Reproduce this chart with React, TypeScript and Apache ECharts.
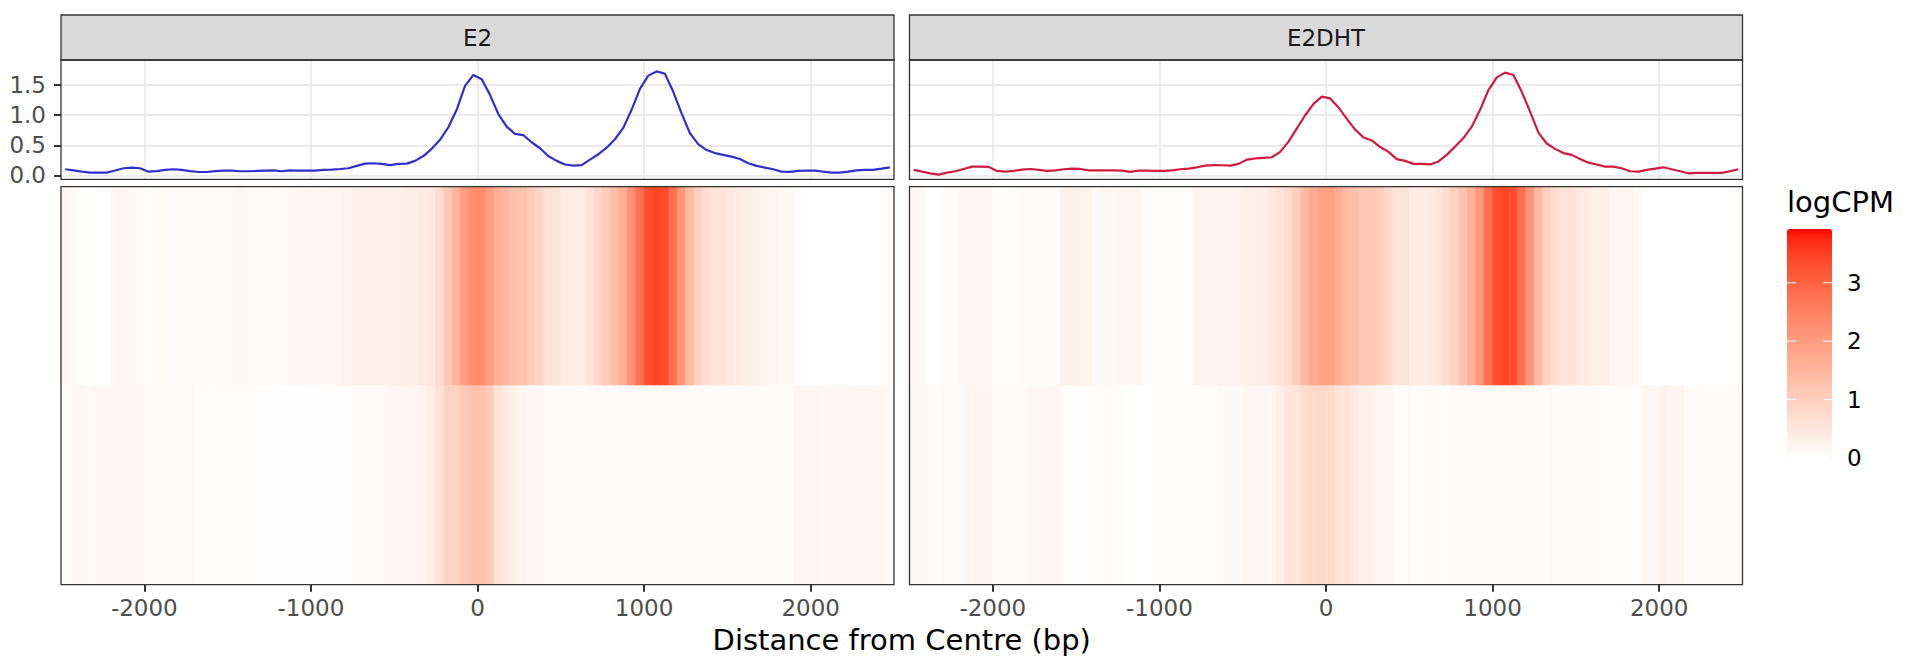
import React, { useEffect, useRef } from 'react';
import * as echarts from 'echarts';

// ---------------- data ----------------
const facets = ['E2', 'E2DHT'];
const binWidth = 50;
const binCentres = Array.from({ length: 100 }, (_, i) => -2475 + binWidth * i);
const xTicks = [-2000, -1000, 0, 1000, 2000];
const yTicks = [0, 0.5, 1.0, 1.5];
const legendTicks = [0, 1, 2, 3];
const fillMin = 0;
const fillMax = 3.92;
const profileMin = -0.067;
const profileMax = 1.92;

const e2Profile = [
  0.10, 0.083, 0.06, 0.044, 0.044, 0.044, 0.08, 0.117, 0.128, 0.117,
  0.06, 0.07, 0.09, 0.10, 0.09, 0.07, 0.055, 0.055, 0.07, 0.078,
  0.078, 0.067, 0.067, 0.072, 0.078, 0.083, 0.067, 0.083, 0.078, 0.078,
  0.078, 0.09, 0.094, 0.105, 0.117, 0.156, 0.194, 0.2, 0.19, 0.17,
  0.19, 0.194, 0.24, 0.32, 0.44, 0.59, 0.8, 1.09, 1.49, 1.67,
  1.6, 1.34, 1.02, 0.81, 0.69, 0.67, 0.55, 0.45, 0.32, 0.24,
  0.18, 0.16, 0.17, 0.26, 0.35, 0.46, 0.6, 0.79, 1.09, 1.44,
  1.66, 1.73, 1.69, 1.39, 1.03, 0.7, 0.52, 0.42, 0.37, 0.34,
  0.31, 0.27, 0.2, 0.156, 0.128, 0.1, 0.06, 0.056, 0.072, 0.078,
  0.078, 0.06, 0.044, 0.044, 0.06, 0.083, 0.09, 0.09, 0.11, 0.133,
];
const e2dhtProfile = [
  0.09, 0.06, 0.033, 0.01, 0.044, 0.067, 0.105, 0.144, 0.144, 0.14,
  0.072, 0.06, 0.072, 0.094, 0.105, 0.09, 0.072, 0.083, 0.1, 0.11,
  0.105, 0.083, 0.083, 0.083, 0.083, 0.078, 0.056, 0.078, 0.078, 0.072,
  0.072, 0.083, 0.1, 0.11, 0.133, 0.16, 0.17, 0.167, 0.16, 0.19,
  0.26, 0.28, 0.29, 0.3, 0.39, 0.56, 0.78, 1.0, 1.19, 1.31,
  1.28, 1.13, 0.94, 0.76, 0.63, 0.58, 0.47, 0.39, 0.27, 0.24,
  0.19, 0.19, 0.18, 0.23, 0.34, 0.48, 0.62, 0.81, 1.09, 1.42,
  1.63, 1.71, 1.67, 1.39, 1.06, 0.71, 0.53, 0.44, 0.37, 0.34,
  0.27, 0.21, 0.18, 0.144, 0.144, 0.117, 0.067, 0.06, 0.09, 0.11,
  0.133, 0.1, 0.067, 0.033, 0.039, 0.039, 0.039, 0.039, 0.067, 0.1,
];
const e2TopRow = [
  0.14, 0.14, 0.04, 0.02, 0.02, 0.03, 0.16, 0.17, 0.15, 0.12,
  0.06, 0.1, 0.1, 0.09, 0.09, 0.1, 0.1, 0.09, 0.1, 0.1,
  0.12, 0.15, 0.12, 0.1, 0.1, 0.11, 0.1, 0.12, 0.14, 0.15,
  0.16, 0.18, 0.2, 0.22, 0.24, 0.26, 0.3, 0.3, 0.32, 0.3,
  0.32, 0.35, 0.36, 0.42, 0.47, 0.72, 1.15, 1.55, 2.0, 2.3,
  2.3, 2.0, 1.6, 1.45, 1.3, 1.25, 1.05, 0.9, 0.62, 0.55,
  0.4, 0.38, 0.4, 0.55, 0.8, 1.05, 1.35, 1.6, 2.2, 2.8,
  3.3, 3.45, 3.38, 2.8, 2.1, 1.4, 0.9, 0.72, 0.62, 0.55,
  0.47, 0.42, 0.35, 0.3, 0.22, 0.18, 0.14, 0.1, 0.05, 0.02,
  0.01, 0, 0, 0, 0, 0, 0, 0, 0.03, 0.06,
];
const e2BottomRow = [
  0.08, 0.13, 0.13, 0.1, 0.13, 0.13, 0.14, 0.13, 0.18, 0.18,
  0.07, 0.07, 0.12, 0.12, 0.12, 0.12, 0.05, 0.05, 0.05, 0.05,
  0.05, 0.05, 0.05, 0.03, 0.03, 0.03, 0.03, 0.03, 0.03, 0.03,
  0.03, 0.03, 0.03, 0.03, 0.03, 0.1, 0.1, 0.1, 0.1, 0.18,
  0.18, 0.18, 0.2, 0.22, 0.37, 0.62, 0.9, 0.95, 1.15, 1.25,
  1.25, 1.05, 0.55, 0.42, 0.3, 0.22, 0.13, 0.13, 0.07, 0.07,
  0.07, 0.07, 0.07, 0.09, 0.09, 0.09, 0.09, 0.09, 0.09, 0.1,
  0.1, 0.09, 0.09, 0.12, 0.12, 0.12, 0.12, 0.12, 0.12, 0.1,
  0.1, 0.1, 0.1, 0.1, 0.08, 0.08, 0.08, 0.08, 0.17, 0.17,
  0.17, 0.15, 0.13, 0.13, 0.13, 0.2, 0.2, 0.17, 0.17, 0.15,
];
const e2dhtTopRow = [
  0.13, 0.13, 0.02, 0.02, 0.08, 0.08, 0.14, 0.14, 0.14, 0.14,
  0.04, 0.04, 0.04, 0.08, 0.08, 0.07, 0.07, 0.07, 0.26, 0.3,
  0.3, 0.25, 0.12, 0.16, 0.16, 0.18, 0.18, 0.18, 0.08, 0.05,
  0.05, 0.05, 0.05, 0.05, 0.21, 0.21, 0.21, 0.22, 0.22, 0.24,
  0.32, 0.32, 0.34, 0.42, 0.55, 0.72, 1.0, 1.45, 1.7, 1.9,
  1.9, 1.7, 1.4, 1.3, 1.15, 1.15, 1.0, 0.8, 0.62, 0.55,
  0.42, 0.42, 0.42, 0.5, 0.72, 0.95, 1.25, 1.6, 2.1, 2.8,
  3.3, 3.42, 3.3, 2.8, 2.1, 1.45, 0.95, 0.72, 0.6, 0.6,
  0.45, 0.45, 0.32, 0.32, 0.17, 0.17, 0.17, 0.08, 0.03, 0,
  0, 0, 0, 0, 0, 0, 0, 0, 0, 0.05,
];
const e2dhtBottomRow = [
  0.16, 0.16, 0.1, 0.08, 0.12, 0.12, 0.12, 0.22, 0.22, 0.22,
  0.1, 0.08, 0.08, 0.08, 0.18, 0.18, 0.18, 0.18, 0.04, 0.04,
  0.03, 0.03, 0.03, 0.08, 0.05, 0.05, 0.01, 0.01, 0.01, 0.05,
  0.05, 0.05, 0.05, 0.05, 0.05, 0.05, 0.05, 0.12, 0.12, 0.12,
  0.2, 0.2, 0.2, 0.2, 0.35, 0.5, 0.5, 0.72, 0.78, 0.8,
  0.75, 0.62, 0.55, 0.42, 0.3, 0.3, 0.17, 0.17, 0.05, 0.05,
  0.05, 0.08, 0.08, 0.08, 0.04, 0.09, 0.09, 0.09, 0.09, 0.09,
  0.09, 0.12, 0.12, 0.12, 0.12, 0.08, 0.08, 0.12, 0.12, 0.12,
  0.12, 0.08, 0.08, 0.04, 0.04, 0.04, 0.04, 0.04, 0.18, 0.18,
  0.27, 0.23, 0.23, 0.08, 0.08, 0.08, 0.08, 0.08, 0.08, 0.08,
];

const profiles = [e2Profile, e2dhtProfile];
const topRows = [e2TopRow, e2dhtTopRow];
const bottomRows = [e2BottomRow, e2dhtBottomRow];
const lineColors = ['#2F2FD0', '#D01A3E'];

// ---------------- colour ramp (CIELAB, like ggplot's gradient) ----------------
const XN = 0.95047, YN = 1.0, ZN = 1.08883;
function toLin(c: number) { c /= 255; return c <= 0.04045 ? c / 12.92 : Math.pow((c + 0.055) / 1.055, 2.4); }
function toSrgb(c: number) {
  c = Math.max(0, Math.min(1, c));
  const v = c <= 0.0031308 ? 12.92 * c : 1.055 * Math.pow(c, 1 / 2.4) - 0.055;
  return Math.round(Math.max(0, Math.min(1, v)) * 255);
}
function fLab(t: number) { return t > 216 / 24389 ? Math.cbrt(t) : (t * 24389 / 27 + 16) / 116; }
function fInv(t: number) { return t > 6 / 29 ? t * t * t : 3 * (6 / 29) * (6 / 29) * (t - 4 / 29); }
function rgbToLab(rgb: number[]) {
  const [r, g, b] = rgb.map(toLin);
  const X = 0.4124564 * r + 0.3575761 * g + 0.1804375 * b;
  const Y = 0.2126729 * r + 0.7151522 * g + 0.0721750 * b;
  const Z = 0.0193339 * r + 0.1191920 * g + 0.9503041 * b;
  const fx = fLab(X / XN), fy = fLab(Y / YN), fz = fLab(Z / ZN);
  return [116 * fy - 16, 500 * (fx - fy), 200 * (fy - fz)];
}
function labToHex(lab: number[]) {
  const [L, a, bb] = lab;
  const fy = (L + 16) / 116, fx = fy + a / 500, fz = fy - bb / 200;
  const X = XN * fInv(fx), Y = YN * fInv(fy), Z = ZN * fInv(fz);
  const r = 3.2404542 * X - 1.5371385 * Y - 0.4985314 * Z;
  const g = -0.9692660 * X + 1.8760108 * Y + 0.0415560 * Z;
  const b = 0.0556434 * X - 0.2040259 * Y + 1.0572252 * Z;
  return '#' + [r, g, b].map((c) => toSrgb(c).toString(16).padStart(2, '0')).join('');
}
const lowLab = rgbToLab([255, 255, 255]);
const highLab = rgbToLab([255, 0, 0]);
const rampStops = Array.from({ length: 41 }, (_, i) => {
  const t = i / 40;
  return labToHex(lowLab.map((v, k) => v + (highLab[k] - v) * t));
});

// ---------------- layout ----------------
const W = 1920, H = 672;
const panelLeft = [61, 909.5];
const panelWidth = 833;
const stripTop = 15, stripBottom = 60;
const lineTop = 60, lineHeight = 119.3;
const heatTop = 186.7, heatHeight = 398;
const legendX = 1787, legendY = 229, legendW = 45, legendH = 229;
const FONT = 'DejaVu Sans';

export default function App() {
  const ref = useRef<HTMLDivElement>(null);
  useEffect(() => {
    if (!ref.current) return;
    const chart = echarts.init(ref.current, undefined, { renderer: 'svg', width: W, height: H });

    const grids: any[] = [];
    const xAxes: any[] = [];
    const yAxes: any[] = [];
    const series: any[] = [];
    const heatSeriesIdx: number[] = [];

    facets.forEach((name, f) => {
      // profile grid
      grids.push({ left: panelLeft[f], top: lineTop, width: panelWidth, height: lineHeight, containLabel: false });
      const gLine = grids.length - 1;
      xAxes.push({
        type: 'value', gridIndex: gLine, min: -2500, max: 2500, position: 'bottom',
        axisLine: { show: false, onZero: false }, axisLabel: { show: false },
        axisTick: { show: false, customValues: xTicks },
        splitLine: { show: true, lineStyle: { color: '#EBEBEB', width: 2 } },
      });
      yAxes.push({
        type: 'value', gridIndex: gLine, min: profileMin, max: profileMax, position: 'left',
        axisLine: { show: false, onZero: false },
        axisTick: { show: f === 0, customValues: yTicks, length: 7, lineStyle: { color: '#333333', width: 2 } },
        axisLabel: {
          show: f === 0, customValues: yTicks, margin: 15,
          formatter: (v: number) => v.toFixed(1), fontSize: 23, color: '#4D4D4D', fontFamily: FONT,
        },
        splitLine: { show: true, lineStyle: { color: '#EBEBEB', width: 2 } },
      });
      series.push({
        type: 'line', name, xAxisIndex: xAxes.length - 1, yAxisIndex: yAxes.length - 1,
        data: binCentres.map((x, i) => [x, profiles[f][i]]),
        showSymbol: false, symbol: 'none', smooth: false,
        lineStyle: { color: lineColors[f], width: 2.2 }, itemStyle: { color: lineColors[f] },
        z: 3,
      });

      // heatmap grid
      grids.push({ left: panelLeft[f], top: heatTop, width: panelWidth, height: heatHeight, containLabel: false });
      const gHeat = grids.length - 1;
      xAxes.push({
        type: 'value', gridIndex: gHeat, min: -2500, max: 2500, position: 'bottom',
        axisLine: { show: false, onZero: false },
        axisTick: { show: true, customValues: xTicks, length: 7, lineStyle: { color: '#333333', width: 2 } },
        axisLabel: {
          show: true, customValues: xTicks, margin: 12,
          formatter: (v: number) => String(v), fontSize: 23, color: '#4D4D4D', fontFamily: FONT,
        },
        splitLine: { show: false },
      });
      yAxes.push({
        type: 'value', gridIndex: gHeat, min: 0, max: 2, show: false,
        axisLine: { onZero: false }, splitLine: { show: false },
      });
      const data: any[] = [];
      binCentres.forEach((x, i) => {
        data.push([x, 1.5, topRows[f][i]]);
        data.push([x, 0.5, bottomRows[f][i]]);
      });
      series.push({
        type: 'custom', name: name + ' heat', xAxisIndex: xAxes.length - 1, yAxisIndex: yAxes.length - 1,
        data, encode: { x: 0, y: 1 }, clip: true,
        renderItem: (params: any, api: any) => {
          const x = api.value(0), y = api.value(1);
          const p1 = api.coord([x - binWidth / 2, y + 0.5]);
          const p2 = api.coord([x + binWidth / 2, y - 0.5]);
          const c = api.visual('color');
          return {
            type: 'rect',
            shape: { x: p1[0], y: p1[1], width: p2[0] - p1[0], height: p2[1] - p1[1] },
            style: { fill: c, stroke: c, lineWidth: 0.8 },
          };
        },
      });
      heatSeriesIdx.push(series.length - 1);
    });

    const graphic: any[] = [];
    facets.forEach((name, f) => {
      const x0 = panelLeft[f];
      graphic.push({
        type: 'rect', z: 10,
        shape: { x: x0, y: stripTop, width: panelWidth, height: stripBottom - stripTop },
        style: { fill: '#D9D9D9', stroke: '#333333', lineWidth: 1.3 },
      });
      graphic.push({
        type: 'text', z: 11, x: x0 + panelWidth / 2, y: (stripTop + stripBottom) / 2,
        style: { text: name, fontSize: 23, fontFamily: FONT, fill: '#1A1A1A', align: 'center', verticalAlign: 'middle' },
      });
      graphic.push({
        type: 'rect', z: 10,
        shape: { x: x0, y: lineTop, width: panelWidth, height: lineHeight },
        style: { fill: 'none', stroke: '#333333', lineWidth: 1.3 },
      });
      graphic.push({
        type: 'rect', z: 10,
        shape: { x: x0, y: heatTop, width: panelWidth, height: heatHeight },
        style: { fill: 'none', stroke: '#333333', lineWidth: 1.3 },
      });
    });
    // axis title
    graphic.push({
      type: 'text', z: 11, x: (panelLeft[0] + panelLeft[1] + panelWidth) / 2, y: 640,
      style: { text: 'Distance from Centre (bp)', fontSize: 29, fontFamily: FONT, fill: '#000000', align: 'center', verticalAlign: 'middle' },
    });
    // legend title, ticks and labels
    graphic.push({
      type: 'text', z: 11, x: legendX, y: 202,
      style: { text: 'logCPM', fontSize: 29, fontFamily: FONT, fill: '#000000', align: 'left', verticalAlign: 'middle' },
    });
    legendTicks.forEach((v) => {
      const y = legendY + legendH - ((v - fillMin) / (fillMax - fillMin)) * legendH;
      if (v > fillMin) {
        graphic.push({ type: 'line', z: 12, shape: { x1: legendX, y1: y, x2: legendX + 9, y2: y }, style: { stroke: '#FFFFFF', lineWidth: 1 } });
        graphic.push({ type: 'line', z: 12, shape: { x1: legendX + legendW - 9, y1: y, x2: legendX + legendW, y2: y }, style: { stroke: '#FFFFFF', lineWidth: 1 } });
      }
      graphic.push({
        type: 'text', z: 11, x: 1847, y,
        style: { text: String(v), fontSize: 23, fontFamily: FONT, fill: '#000000', align: 'left', verticalAlign: 'middle' },
      });
    });

    chart.setOption({
      animation: false,
      backgroundColor: '#FFFFFF',
      textStyle: { fontFamily: FONT },
      grid: grids,
      xAxis: xAxes,
      yAxis: yAxes,
      series,
      visualMap: {
        type: 'continuous', min: fillMin, max: fillMax, dimension: 2, seriesIndex: heatSeriesIdx,
        calculable: false, realtime: false, hoverLink: false,
        inRange: { color: rampStops },
        orient: 'vertical', left: legendX, top: legendY, itemWidth: legendW, itemHeight: legendH,
        padding: 0, text: null, showLabel: false,
      },
      graphic,
    });
    return () => chart.dispose();
  }, []);
  return <div ref={ref} style={{ position: 'fixed', left: 0, top: 0, width: W, height: H, background: '#fff' }} />;
}
